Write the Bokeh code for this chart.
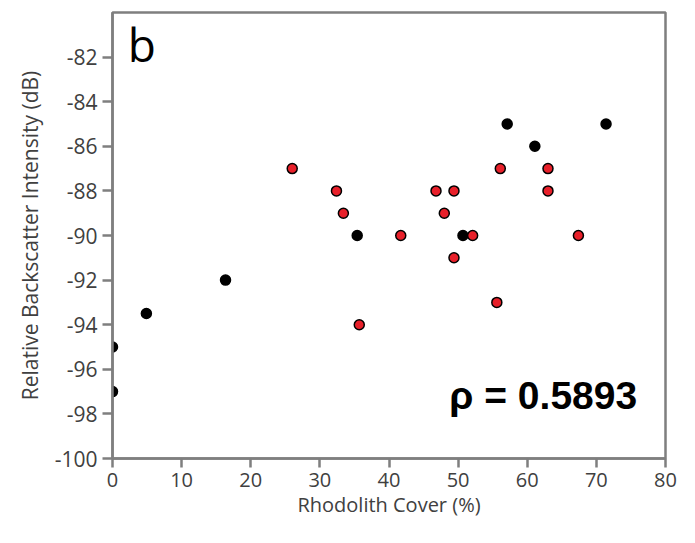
from bokeh.plotting import figure
from bokeh.models import Label, FixedTicker, Range1d
from bokeh.embed import file_html
from bokeh.resources import INLINE

# Black group
black_x = [0, 0, 4.9, 16.35, 35.4, 50.7, 57.1, 61.1, 71.4]
black_y = [-95, -97, -93.5, -92, -90, -90, -85, -86, -85]
# Red group
red_x = [26.0, 32.4, 33.4, 35.7, 41.7, 46.8, 48.0, 49.4, 49.4, 52.1, 55.6, 56.1, 63.0, 63.0, 67.4]
red_y = [-87, -88, -89, -94, -90, -88, -89, -88, -91, -90, -93, -87, -87, -88, -90]

x_ticks = [0, 10, 20, 30, 40, 50, 60, 70, 80]
y_ticks = [-100, -98, -96, -94, -92, -90, -88, -86, -84, -82]

FONT = "Open Sans"
GRAY = "#7f7f7f"
TXT = "#404040"

p = figure(width=679, height=527, output_backend="svg", toolbar_location=None,
           x_range=Range1d(0, 80), y_range=Range1d(-100, -80),
           min_border_left=112, min_border_right=14, min_border_top=12, min_border_bottom=69)
p.grid.visible = False
p.outline_line_color = GRAY
p.outline_line_width = 2.5

for ax in (p.xaxis[0], p.yaxis[0]):
    ax.axis_line_color = GRAY
    ax.axis_line_width = 2.5
    ax.major_tick_line_color = GRAY
    ax.major_tick_line_width = 2.5
    ax.major_tick_in = 0
    ax.minor_tick_line_color = None
    ax.major_label_text_font = FONT
    ax.major_label_text_color = TXT
    ax.axis_label_text_font = FONT
    ax.axis_label_text_font_style = "normal"
    ax.axis_label_text_color = TXT

p.xaxis.ticker = FixedTicker(ticks=x_ticks)
p.yaxis.ticker = FixedTicker(ticks=y_ticks)
p.xaxis.major_label_overrides = {t: str(t) for t in x_ticks}
p.yaxis.major_label_overrides = {t: str(t) for t in y_ticks}
p.xaxis.axis_label = "Rhodolith Cover (%)"
p.yaxis.axis_label = "Relative Backscatter Intensity (dB)"

p.xaxis.major_tick_out = 9
p.yaxis.major_tick_out = 10
p.xaxis.major_label_text_font_size = "20px"
p.yaxis.major_label_text_font_size = "21px"
p.xaxis.axis_label_text_font_size = "20px"
p.yaxis.axis_label_text_font_size = "21px"
p.xaxis.major_label_standoff = 5
p.yaxis.major_label_standoff = 5
p.xaxis.axis_label_standoff = 1
p.yaxis.axis_label_standoff = 8

p.scatter(black_x, black_y, size=10, fill_color="black", line_color="black", line_width=1.5)
p.scatter(red_x, red_y, size=10, fill_color="#e8202a", line_color="black", line_width=1.5)

p.add_layout(Label(x=2.2, y=-81.43, text="b", text_font=FONT, text_font_size="46px",
                   text_color="black", text_baseline="alphabetic", text_align="left"))
p.add_layout(Label(x=75.9, y=-97.16, text="ρ = 0.5893", text_font="Liberation Sans",
                   text_font_size="39px", text_font_style="bold", text_color="black",
                   text_baseline="alphabetic", text_align="right"))

open("out.html", "w").write(file_html(p, INLINE))
